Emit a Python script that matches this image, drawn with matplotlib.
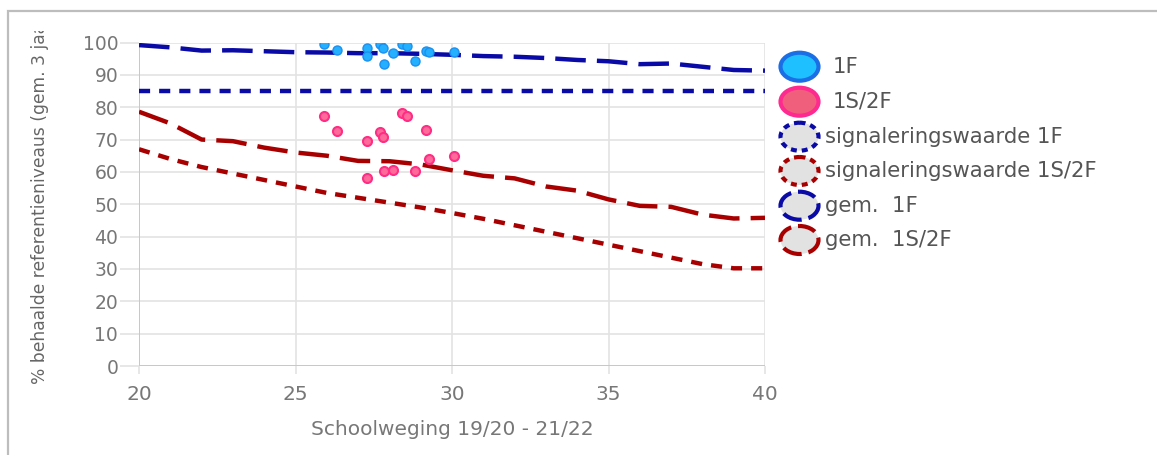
import numpy as np
import matplotlib
matplotlib.use("Agg")
import matplotlib.pyplot as plt
from matplotlib.patches import Ellipse, Rectangle
from matplotlib.transforms import Bbox, TransformedBbox

plt.rcParams['font.family'] = ['DejaVu Sans']
plt.rcParams['lines.scale_dashes'] = False

# schoolweging (x) for the trend lines
weging = [20, 21, 22, 23, 24, 25, 26, 27, 28, 29, 30,
          31, 32, 33, 34, 35, 36, 37, 38, 39, 40]
gem_1f = [99.2, 98.5, 97.5, 97.6, 97.3, 97.0, 96.9, 96.7, 96.7, 96.5, 96.2,
          95.8, 95.6, 95.2, 94.6, 94.2, 93.3, 93.5, 92.5, 91.5, 91.3]
gem_1s2f = [78.6, 75.0, 70.0, 69.5, 67.5, 66.0, 65.0, 63.4, 63.3, 62.3, 60.5,
            58.8, 58.0, 55.5, 54.2, 51.5, 49.5, 49.2, 46.8, 45.6, 45.8]
signal_1f = [85.0] * len(weging)
signal_1s2f = [67.0, 64.0, 61.5, 59.5, 57.5, 55.5, 53.5, 52.0, 50.5, 49.0, 47.3,
               45.5, 43.5, 41.5, 39.5, 37.5, 35.5, 33.5, 31.5, 30.2, 30.2]

# school points
pts_x = [25.92, 26.34, 27.29, 27.29, 27.71, 27.78, 27.82, 28.12, 28.40, 28.55,
         28.83, 29.16, 29.27, 30.06]
pts_1f = [99.6, 97.7, 98.3, 95.7, 99.4, 98.2, 93.3, 96.7, 99.4, 99.0,
          94.4, 97.5, 97.2, 97.2]
pts_1s2f = [77.3, 72.6, 69.7, 58.1, 72.3, 70.8, 60.3, 60.5, 78.1, 77.4,
            60.3, 72.9, 64.1, 64.9]

legend_labels = ["1F", "1S/2F", "signaleringswaarde 1F",
                 "signaleringswaarde 1S/2F", "gem.  1F", "gem.  1S/2F"]

W, H = 1157, 455
fig = plt.figure(figsize=(W / 100, H / 100), dpi=100)

def px_box(x0, y0, x1, y1):
    # pixel box (top-left origin) -> figure fraction
    return [x0 / W, 1 - y1 / H, (x1 - x0) / W, (y1 - y0) / H]

# outer frame (only top and left visible)
fig.patches.append(Rectangle((8 / W, -0.1), 1.2, 1 - 11 / H + 0.1,
                             transform=fig.transFigure, fill=False,
                             edgecolor='#bdbdbd', linewidth=1.6))

ax = fig.add_axes(px_box(139, 42.5, 765, 366))
blue = '#0a0aa6'
red = '#a80000'
ax.plot(weging, signal_1f, color=blue, lw=3.2, ls=(0, (8, 6.5)))
ax.plot(weging, signal_1s2f, color=red, lw=3.2, ls=(0, (8, 6.5)))
ax.plot(weging, gem_1f, color=blue, lw=3.2, ls=(0, (22, 8)))
ax.plot(weging, gem_1s2f, color=red, lw=3.2, ls=(0, (22, 8)))
ax.plot(pts_x, pts_1f, 'o', ms=6.5, mfc='#25b0ff', mec='#1a90f0', mew=1, zorder=5)
ax.plot(pts_x, pts_1s2f, 'o', ms=6.5, mfc='#ff6a9a', mec='#ff2e84', mew=1.5, zorder=5)

ax.set_xlim(20, 40)
ax.set_ylim(0, 100)
ax.set_xticks([20, 25, 30, 35, 40])
ax.set_yticks(range(0, 101, 10))
ax.grid(True, color='#e3e3e3', lw=1.2)
ax.set_axisbelow(True)
for s in ax.spines.values():
    s.set_visible(False)
ax.axhline(0, color='#c8c8c8', lw=1.4, zorder=1)
ax.axvline(20, color='#c8c8c8', lw=1.4, zorder=1)
ax.tick_params(axis='x', length=6, color='#e3e3e3', width=1.2, pad=8,
               labelsize=14.5, labelcolor='#777777')
ax.tick_params(axis='y', length=14, color='#e3e3e3', width=1.2, pad=1,
               labelsize=13.5, labelcolor='#777777')
ax.set_xlabel("Schoolweging 19/20 - 21/22", fontsize=14.5, color='#777777',
              labelpad=11)

ylab = fig.text(40 / W, 1 - 384 / H, "% behaalde referentieniveaus (gem. 3 jaar)",
                rotation=90, ha='center', va='bottom', fontsize=12.3,
                color='#666666', clip_on=True)
ylab.set_clip_box(TransformedBbox(Bbox([[0, 0], [1, 1 - 31 / H]]), fig.transFigure))

# legend drawn by hand in pixel units
lax = fig.add_axes(px_box(770, 40, 1150, 260))
lax.set_xlim(0, 380)
lax.set_ylim(220, 0)
lax.axis('off')
row_y = [26.7, 61.7, 96.7, 131, 165.7, 200]
faces = ['#1ec0ff', '#f0607c', '#e2e2e2', '#e2e2e2', '#e2e2e2', '#e2e2e2']
edges = ['#1a6ee6', '#ff2a90', blue, red, blue, red]
styles = ['-', '-', (0, (4.3, 3.6)), (0, (4.3, 3.6)), (2, (14, 5)), (2, (14, 5))]
text_x = [63, 63, 55, 55, 55, 55]
for i, lab in enumerate(legend_labels):
    lax.add_patch(Ellipse((29.5, row_y[i]), 38, 28, facecolor=faces[i],
                          edgecolor=edges[i], lw=3, ls=styles[i]))
    lax.text(text_x[i], row_y[i], lab, fontsize=15.2, color='#555555',
             va='center', ha='left')

fig.savefig("out.png", dpi=100)
